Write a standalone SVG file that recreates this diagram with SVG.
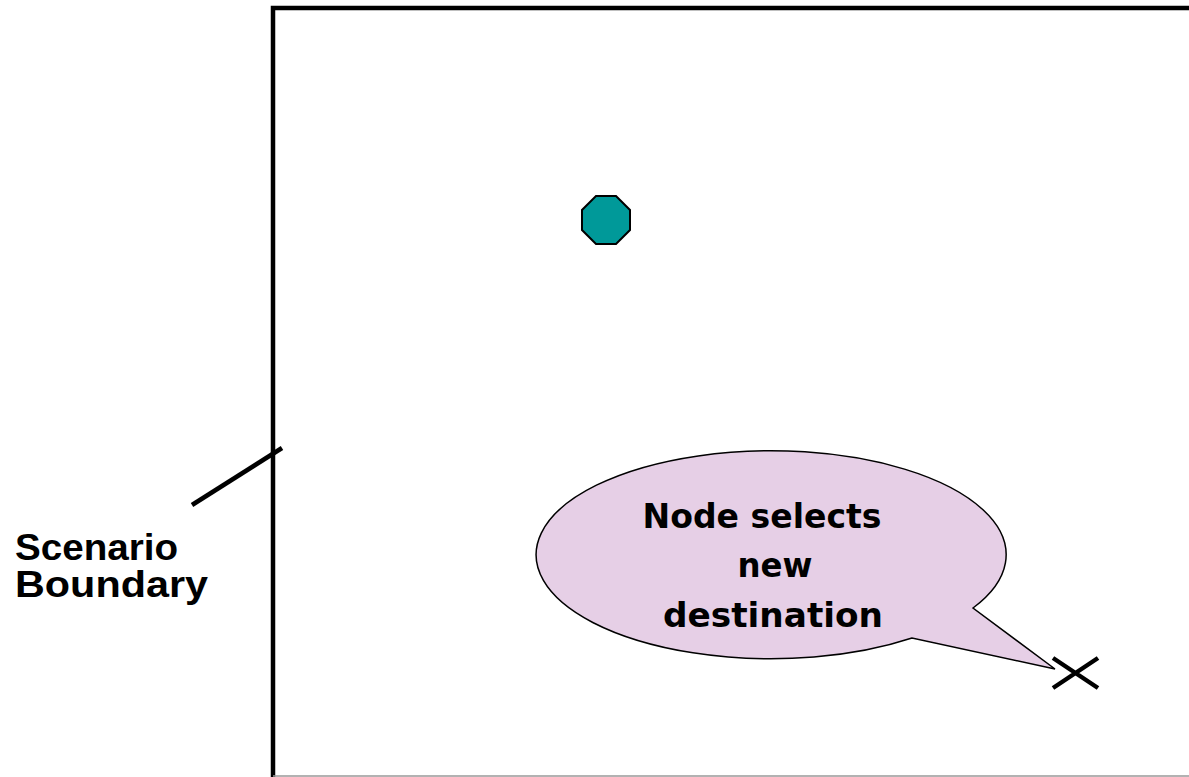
<svg xmlns="http://www.w3.org/2000/svg" width="1189" height="777" viewBox="0 0 1189 777">
  <style>
    .frame { fill: none; stroke: #000; stroke-width: 4.5; }
    .lead { stroke: #000; stroke-width: 4.5; fill: none; }
    .label { font-family: "Liberation Sans", Arial, sans-serif; font-weight: bold; font-size: 36px; fill: #000; }
    .bubble { fill: #e6cfe6; stroke: #000; stroke-width: 1.5; }
    .btext { font-family: "DejaVu Sans", "Noto Sans", sans-serif; font-weight: bold; font-size: 34px; fill: #000; text-anchor: middle; }
    .cross { stroke: #000; stroke-width: 4.5; fill: none; }
  </style>
  <rect width="1189" height="777" fill="#fff"/>

  <!-- scenario area -->
  <g id="boundary">
    <path class="frame" d="M273 777 V8 H1189"/>
    <line x1="273" y1="776" x2="1189" y2="776" stroke="#999" stroke-width="1.5"/>
  </g>

  <!-- boundary label with leader line -->
  <g id="boundary-label">
    <line class="lead" x1="192" y1="505" x2="282" y2="448"/>
    <text class="label" x="15" y="560" textLength="163" lengthAdjust="spacingAndGlyphs">Scenario</text>
    <text class="label" x="15" y="597" textLength="193" lengthAdjust="spacingAndGlyphs">Boundary</text>
  </g>

  <!-- mobile node -->
  <g id="node">
    <polygon points="596,196 616,196 630,210 630,230 616,244 596,244 582,230 582,210" fill="#009999" stroke="#000" stroke-width="2"/>
  </g>

  <!-- destination callout -->
  <g id="callout">
    <path class="bubble" d="M973 608 A235 104 0 1 0 912 638 L1055 669 Z"/>
    <text class="btext" x="762" y="528" textLength="239" lengthAdjust="spacingAndGlyphs">Node selects</text>
    <text class="btext" x="775" y="577" textLength="75" lengthAdjust="spacingAndGlyphs">new</text>
    <text class="btext" x="773" y="627" textLength="220" lengthAdjust="spacingAndGlyphs">destination</text>
  </g>

  <!-- new destination marker -->
  <g id="destination">
    <path class="cross" d="M1053 658 L1098 688 M1053 688 L1098 658"/>
  </g>
</svg>
